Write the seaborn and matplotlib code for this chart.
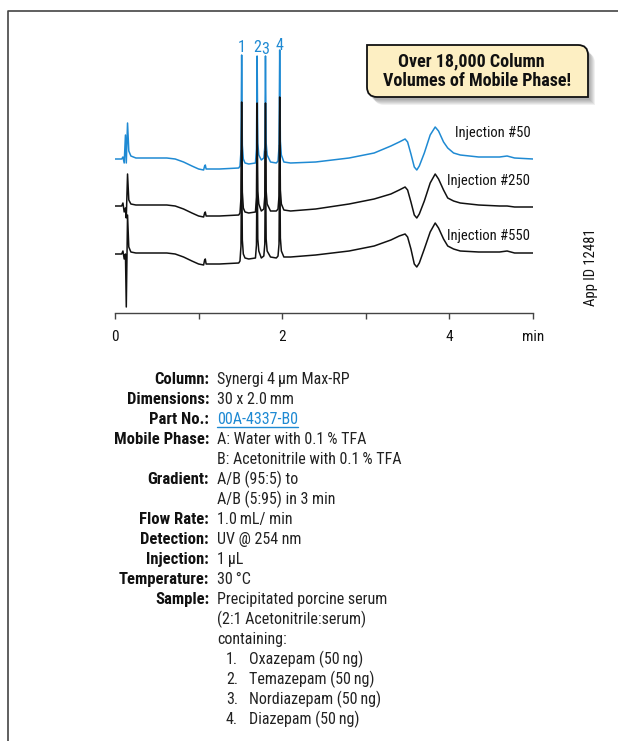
import matplotlib
matplotlib.use("Agg")
from matplotlib import pyplot as plt
from matplotlib.path import Path
from matplotlib.patches import PathPatch
import pandas as pd
import seaborn as sns

# retention time (min) and detector signal (relative to each trace's own baseline)
time_min = [0.00, 0.08, 0.095, 0.11, 0.125, 0.135, 0.15, 0.165, 0.19, 0.25,
            0.45, 0.62, 0.72, 0.82, 0.92, 1.00, 1.06, 1.072, 1.08, 1.09, 1.25, 1.48,
            1.495, 1.507, 1.515, 1.523, 1.535, 1.555, 1.60,
            1.68, 1.692, 1.70, 1.708, 1.72, 1.75,
            1.78, 1.792, 1.80, 1.808, 1.82, 1.86, 1.93,
            1.95, 1.962, 1.97, 1.978, 1.99, 2.02, 2.10, 2.40,
            2.80, 3.10, 3.30, 3.40, 3.47, 3.50, 3.54, 3.58, 3.61, 3.64, 3.70, 3.77,
            3.83, 3.87, 3.93, 3.98,
            4.05, 4.13, 4.35, 4.60, 4.69, 4.78, 5.00]
inj50 = [0, 0, 2, -4, 24, -4, 36, 8, 3, 1,
         1, 1, 0, -3, -7, -10, -11, -7, -6, -10, -10, -9,
         -7, 8, 104, 14, 0, -4, -5,
         -4, 10, 103, 16, 4, -1,
         1, 12, 103, 16, 4, -3, -4,
         -2, 12, 109, 18, 4, -3, -4, -3,
         1, 6, 13, 17, 20, 17, 5, -8, -11, -7, 6, 24,
         32, 28, 17, 11,
         6, 4, 2, 2, 3, 1, 0]
inj250 = [0, 0, 3, -6, -2, -12, 32, 6, 2, 1,
          1, 1, 0, -3, -7, -10, -11, -7, -6, -10, -10, -9,
          -7, 8, 104, 14, -2, -6, -7,
          -6, 9, 103, 15, 2, -5,
          -3, 10, 103, 15, 2, -5, -5,
          -3, 10, 109, 16, 2, -4, -5, -3,
          2, 7, 12, 16, 19, 16, 4, -9, -12, -8, 5, 23,
          32, 27, 16, 8,
          5, 3, 1, 0, 0, -1, -1]
inj550 = [0, 0, 3, -5, 0, -53, 39, 7, 2, 1,
          1, 1, 0, -3, -7, -10, -11, -6, -5, -10, -10, -9,
          -7, 8, 104, 14, 0, -4, -5,
          -4, 9, 103, 15, 3, -4,
          -2, 10, 103, 15, 3, -3, -4,
          -2, 10, 109, 16, 3, -3, -3, -1,
          3, 8, 14, 18, 20, 17, 5, -10, -13, -9, 5, 22,
          31, 26, 15, 8,
          5, 3, 2, 2, 3, 1, 1]

trace_names = ["Injection #50", "Injection #250", "Injection #550"]
trace_signals = [inj50, inj250, inj550]
trace_colors = ["#1f8ad3", "#111111", "#111111"]
trace_offsets = [154, 107, 59]

peak_labels = ["1", "2", "3", "4"]
peak_times = [1.515, 1.70, 1.80, 1.97]

x_ticks = [0, 1, 2, 3, 4, 5]
x_tick_labels = ["0", "", "2", "", "4", "min"]

cond_labels = ["Column:", "Dimensions:", "Part No.:", "Mobile Phase:", "",
               "Gradient:", "", "Flow Rate:", "Detection:", "Injection:",
               "Temperature:", "Sample:", "", ""]
cond_values = ["Synergi 4\u2009µm Max-RP", "30 x 2.0\u2009mm", "00A-4337-B0",
               "A: Water with 0.1\u2009% TFA", "B: Acetonitrile with 0.1\u2009% TFA",
               "A/B (95:5) to", "A/B (5:95) in 3 min", "1.0\u2009mL/ min",
               "UV @ 254 nm", "1\u2009µL", "30\u2009°C", "Precipitated porcine serum",
               "(2:1 Acetonitrile:serum)", "containing:"]
sample_names = ["Oxazepam (50\u2009ng)", "Temazepam (50\u2009ng)",
                "Nordiazepam (50\u2009ng)", "Diazepam (50\u2009ng)"]

sns.set_style("white")
plt.rcParams["font.family"] = ["Roboto Condensed", "IBM Plex Sans Condensed",
                               "Liberation Sans", "DejaVu Sans"]

blue = "#1f8ad3"
W, H = 618, 741
fig = plt.figure(figsize=(W / 100, H / 100), dpi=100)

# chromatogram axes: x axis line at y=313 px, 0..5 min spans 115..533 px
ax = fig.add_axes([115 / W, 1 - 313 / H, 418 / W, 273 / H])
ax.patch.set_alpha(0)
for name, sig, col, off in zip(trace_names, trace_signals, trace_colors, trace_offsets):
    df = pd.DataFrame({"t": time_min, "s": [v + off for v in sig]})
    sns.lineplot(data=df, x="t", y="s", ax=ax, color=col, lw=1.1,
                 estimator=None, sort=False)
ax.set_xlim(0, 5)
ax.set_ylim(0, 273)
ax.set_xlabel("")
ax.set_ylabel("")
ax.set_yticks([])
ax.set_xticks(x_ticks)
ax.set_xticklabels(x_tick_labels, fontsize=11)
ax.tick_params(axis="x", bottom=True, direction="out", length=4, width=1,
               color="#444444", pad=8, labelcolor="#111111")
for side in ["top", "left", "right"]:
    ax.spines[side].set_visible(False)
ax.spines["bottom"].set_color("#444444")
ax.spines["bottom"].set_linewidth(1)

peak_label_y = [266, 266, 264, 268]
for lab, t, y in zip(peak_labels, peak_times, peak_label_y):
    ax.text(t, y, lab, color=blue, fontsize=11.5, ha="center", va="center", clip_on=False)

trace_label_pos = [(4.07, 180), (3.97, 132), (3.97, 77)]
for name, (tx, ty) in zip(trace_names, trace_label_pos):
    ax.text(tx, ty, name, fontsize=10.5, ha="left", va="center", color="#111111")

# overlay in pixel coordinates for frame, callout and text block
ov = fig.add_axes([0, 0, 1, 1])
ov.set_xlim(0, W)
ov.set_ylim(H, 0)
ov.axis("off")
ov.patch.set_alpha(0)
ov.plot([8, 8, W], [H, 11, 11], color="#444444", lw=1.2, solid_capstyle="butt")


def box_path(dx=0, dy=0):
    l, t, r, b, rad = 367 + dx, 45 + dy, 588 + dx, 97 + dy, 10
    verts = [(l, t), (r - rad, t), (r, t), (r, t + rad), (r, b), (l + rad, b),
             (l, b), (l, b - rad), (l, t)]
    codes = [Path.MOVETO, Path.LINETO, Path.CURVE3, Path.CURVE3, Path.LINETO,
             Path.LINETO, Path.CURVE3, Path.CURVE3, Path.CLOSEPOLY]
    return Path(verts, codes)


for i in range(6):
    ov.add_patch(PathPatch(box_path(2 + i, 3 + i), facecolor="#000000",
                           edgecolor="none", alpha=0.06))
ov.add_patch(PathPatch(box_path(), facecolor="#fdefc3", edgecolor="#111111", lw=1.3))
ov.text(471, 61, "Over 18,000 Column", fontsize=13, fontweight="bold",
        ha="center", va="center", color="#111111")
ov.text(477, 81, "Volumes of Mobile Phase!", fontsize=13, fontweight="bold",
        ha="center", va="center", color="#111111")

ov.text(591, 267, "App ID 12481", rotation=90, fontsize=10.5, ha="center",
        va="center", color="#111111")

base0, step = 384, 20
part_txt = None
for i, (lab, val) in enumerate(zip(cond_labels, cond_values)):
    y = base0 + i * step
    if lab:
        ov.text(209, y, lab, fontsize=12, fontweight="bold", ha="right",
                va="baseline", color="#111111")
    col = blue if lab == "Part No.:" else "#222222"
    t = ov.text(217, y, val, fontsize=11.5, ha="left", va="baseline", color=col)
    if lab == "Part No.:":
        part_txt = (t, y)
for j, nm in enumerate(sample_names):
    y = base0 + (len(cond_values) + j) * step
    ov.text(238, y, f"{j + 1}.", fontsize=11.5, ha="right", va="baseline", color="#222222")
    ov.text(249, y, nm, fontsize=11.5, ha="left", va="baseline", color="#222222")

# underline the part number link to its drawn width
fig.canvas.draw()
t, y = part_txt
bb = t.get_window_extent().transformed(ov.transData.inverted())
ov.plot([bb.x0, bb.x1], [y + 3, y + 3], color=blue, lw=1)

fig.savefig("out.png", dpi=100)
